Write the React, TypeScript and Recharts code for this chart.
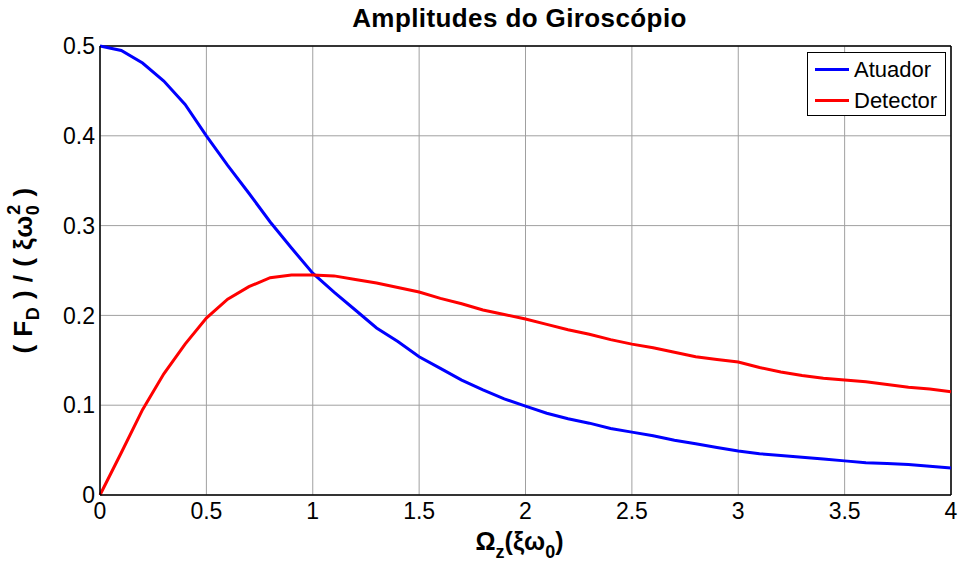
import React from "react";
import {
  LineChart,
  Line,
  XAxis,
  YAxis,
  CartesianGrid,
  Legend,
  ReferenceLine,
} from "recharts";

// Ω_z em unidades de ξω0
const omega = [
  0, 0.1, 0.2, 0.3, 0.4, 0.5, 0.6, 0.7, 0.8, 0.9, 1.0, 1.1, 1.2, 1.3, 1.4, 1.5,
  1.6, 1.7, 1.8, 1.9, 2.0, 2.1, 2.2, 2.3, 2.4, 2.5, 2.6, 2.7, 2.8, 2.9, 3.0,
  3.1, 3.2, 3.3, 3.4, 3.5, 3.6, 3.7, 3.8, 3.9, 4.0,
];

// amplitude do atuador
const atuador = [
  0.5, 0.495, 0.481, 0.461, 0.435, 0.4, 0.367, 0.336, 0.304, 0.275, 0.247,
  0.226, 0.206, 0.186, 0.171, 0.154, 0.141, 0.128, 0.117, 0.107, 0.099, 0.091,
  0.085, 0.08, 0.074, 0.07, 0.066, 0.061, 0.057, 0.053, 0.049, 0.046, 0.044,
  0.042, 0.04, 0.038, 0.036, 0.035, 0.034, 0.032, 0.03,
];

// amplitude do detector
const detector = [
  0, 0.047, 0.095, 0.135, 0.168, 0.197, 0.218, 0.232, 0.242, 0.245, 0.245,
  0.244, 0.24, 0.236, 0.231, 0.226, 0.219, 0.213, 0.206, 0.201, 0.196, 0.19,
  0.184, 0.179, 0.173, 0.168, 0.164, 0.159, 0.154, 0.151, 0.148, 0.142, 0.137,
  0.133, 0.13, 0.128, 0.126, 0.123, 0.12, 0.118, 0.115,
];

const xTicks = [0, 0.5, 1, 1.5, 2, 2.5, 3, 3.5, 4];
const yTicks = [0, 0.1, 0.2, 0.3, 0.4, 0.5];

const seriesNames = ["Atuador", "Detector"];
const seriesColors = ["#0000ff", "#ff0000"];

const data = omega.map((w, i) => ({
  omega: w,
  atuador: atuador[i],
  detector: detector[i],
}));

const FONT = '"Liberation Sans", Arial, Helvetica, sans-serif';

const renderYLabel = (props: any) => {
  const vb = props.viewBox || {};
  const cx = 32;
  const cy = (vb.y ?? 46) + (vb.height ?? 449) / 2;
  return (
    <text
      x={cx}
      y={cy}
      transform={`rotate(-90 ${cx} ${cy})`}
      textAnchor="middle"
      fontFamily={FONT}
      fontWeight="bold"
      fontSize={26}
      letterSpacing={0.5}
      fill="#000"
    >
      {"( F"}
      <tspan dy={7} fontSize={18}>
        D
      </tspan>
      <tspan dy={-7}>{" ) / ( ξω"}</tspan>
      <tspan dy={7} fontSize={18}>
        0
      </tspan>
      <tspan dx={-10} dy={-19} fontSize={18}>
        2
      </tspan>
      <tspan dy={12}>{" )"}</tspan>
    </text>
  );
};

const renderXLabel = (props: any) => {
  const vb = props.viewBox || {};
  const cx = (vb.x ?? 100) + (vb.width ?? 851) / 2 - 6;
  const y = 550;
  return (
    <text
      x={cx}
      y={y}
      textAnchor="middle"
      fontFamily={FONT}
      fontWeight="bold"
      fontSize={25}
      fill="#000"
    >
      {"Ω"}
      <tspan dy={8} fontSize={18}>
        z
      </tspan>
      <tspan dy={-8}>{"(ξω"}</tspan>
      <tspan dy={8} fontSize={18}>
        0
      </tspan>
      <tspan dy={-8}>{")"}</tspan>
    </text>
  );
};

const renderLegend = () => (
  <div
    style={{
      border: "1px solid #000",
      background: "#fff",
      width: 137,
      height: 62,
      boxSizing: "content-box",
      fontFamily: FONT,
      fontSize: 22,
      color: "#000",
    }}
  >
    {seriesNames.map((name, i) => (
      <div
        key={name}
        style={{
          display: "flex",
          alignItems: "center",
          height: 31,
          marginTop: i === 0 ? 1 : 0,
        }}
      >
        <div
          style={{
            width: 34,
            height: 3,
            background: seriesColors[i],
            marginLeft: 7,
            marginRight: 5,
          }}
        />
        <span>{name}</span>
      </div>
    ))}
  </div>
);

const App = () => {
  return (
    <div
      style={{
        position: "absolute",
        left: 0,
        top: 0,
        width: 959,
        height: 565,
        background: "#fff",
        fontFamily: FONT,
      }}
    >
      <div
        style={{
          position: "absolute",
          left: 94,
          top: 5,
          width: 851,
          textAlign: "center",
          fontSize: 26,
          lineHeight: "26px",
          fontWeight: "bold",
          letterSpacing: 0.4,
          color: "#000",
        }}
      >
        Amplitudes do Giroscópio
      </div>
      <LineChart
        width={959}
        height={565}
        data={data}
        margin={{ top: 46, right: 8, left: 40, bottom: 10 }}
      >
        <CartesianGrid stroke="#a0a0a0" strokeWidth={1} />
        <XAxis
          dataKey="omega"
          type="number"
          domain={[0, 4]}
          ticks={xTicks}
          height={60}
          tickSize={0}
          tickMargin={8}
          tickLine={false}
          axisLine={{ stroke: "#000", strokeWidth: 1.5 }}
          tick={{ fill: "#000", fontSize: 23, fontFamily: FONT }}
          interval={0}
          label={renderXLabel}
        />
        <YAxis
          type="number"
          domain={[0, 0.5]}
          ticks={yTicks}
          width={60}
          tickSize={0}
          tickMargin={5}
          tickLine={false}
          axisLine={{ stroke: "#000", strokeWidth: 1.5 }}
          tick={{ fill: "#000", fontSize: 23, fontFamily: FONT }}
          interval={0}
          label={renderYLabel}
        />
        <ReferenceLine y={0.5} stroke="#000" strokeWidth={1.5} />
        <ReferenceLine x={4} stroke="#000" strokeWidth={1.5} />
        <Legend
          layout="horizontal"
          verticalAlign="middle"
          align="center"
          content={renderLegend}
          wrapperStyle={{
            top: 52,
            left: 807,
            right: "auto",
            bottom: "auto",
            width: "auto",
          }}
        />
        <Line
          name={seriesNames[0]}
          type="linear"
          dataKey="atuador"
          stroke={seriesColors[0]}
          strokeWidth={3}
          dot={false}
          isAnimationActive={false}
        />
        <Line
          name={seriesNames[1]}
          type="linear"
          dataKey="detector"
          stroke={seriesColors[1]}
          strokeWidth={3}
          dot={false}
          isAnimationActive={false}
        />
      </LineChart>
    </div>
  );
};

export default App;
